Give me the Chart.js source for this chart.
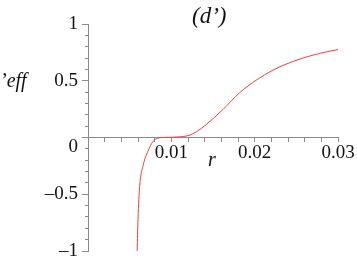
<!DOCTYPE html>
<html>
<head>
<meta charset="utf-8">
<script src="https://cdn.jsdelivr.net/npm/chart.js@4/dist/chart.umd.min.js"></script>
<style>
  html, body { margin: 0; padding: 0; background: #fff; }
  #wrap { position: relative; width: 357px; height: 259px; overflow: hidden; }
  canvas { position: absolute; left: 0; top: 0; }
  .lbl { position: absolute; font-family: "Liberation Serif", "Times New Roman", serif; font-style: italic; color: #111; white-space: nowrap; line-height: 1; }
</style>
</head>
<body>
<div id="wrap">
  <canvas id="c" width="357" height="259"></canvas>
  <div class="lbl" id="title" style="left:192px; top:4px; font-size:23px;">(d’)</div>
  <div class="lbl" id="ylab" style="left:0px; top:70px; font-size:20px;">’eff</div>
  <div class="lbl" id="xlab" style="left:208px; top:149px; font-size:20px;">r</div>
</div>
<script>
const rValues = [0.0059, 0.0060, 0.0062, 0.0066, 0.0072, 0.0078, 0.0084, 0.0090, 0.0100, 0.0110, 0.0120, 0.0130, 0.0142, 0.0162, 0.0182, 0.0202, 0.0222, 0.0242, 0.0262, 0.0282, 0.0300];
const vValues = [-1.0, -0.72, -0.43, -0.25, -0.12, -0.035, -0.005, 0.0, 0.002, 0.006, 0.016, 0.05, 0.115, 0.247, 0.395, 0.506, 0.594, 0.659, 0.709, 0.748, 0.775];
const xTickLabels = [0.01, 0.02, 0.03];
const yTickLabels = [-1, -0.5, 0, 0.5, 1];

const axisColor = '#8a8a8a';
const fontSpec = { family: '"Liberation Serif", "Times New Roman", serif', size: 19, lineHeight: 1.0 };

function fmtY(v) {
  const r = Math.round(v * 10) / 10;
  if (!yTickLabels.some(t => Math.abs(t - r) < 1e-9)) return '';
  if (r === 0) return ['', '0'];
  return r < 0 ? '–' + String(Math.abs(r)) : String(r);
}
function fmtX(v) {
  const r = Math.round(v * 1000) / 1000;
  const hit = xTickLabels.find(t => Math.abs(t - r) < 1e-9);
  return hit === undefined ? '' : String(hit);
}
function noPad(s) { s.paddingTop = 0; s.paddingBottom = 0; s.paddingLeft = 0; s.paddingRight = 0; }

function build() {
  new Chart(document.getElementById('c'), {
    type: 'line',
    data: {
      datasets: [{
        data: rValues.map((r, i) => ({ x: r, y: vValues[i] })),
        borderColor: '#ff3b3b',
        borderWidth: 1,
        pointRadius: 0,
        fill: false,
        cubicInterpolationMode: 'monotone',
        clip: false,
        yAxisID: 'y'
      }]
    },
    options: {
      responsive: false,
      animation: false,
      events: [],
      layout: { padding: { left: 0, right: 19, top: 24, bottom: 8 } },
      plugins: { legend: { display: false }, tooltip: { enabled: false }, title: { display: false } },
      scales: {
        x: {
          type: 'linear',
          min: 0, max: 0.03,
          position: { y: 0 },
          afterFit: noPad,
          grid: { drawOnChartArea: false, drawTicks: true, tickLength: 4, tickColor: axisColor, tickWidth: 1 },
          border: { display: true, color: axisColor, width: 1 },
          ticks: { stepSize: 0.002, autoSkip: false, maxRotation: 0, padding: 2, color: '#111', font: fontSpec, callback: v => fmtX(v) }
        },
        y: {
          type: 'linear',
          min: -1, max: 1,
          position: 'left',
          afterFit: s => { noPad(s); s.width = 88; },
          grid: { drawOnChartArea: false, drawTicks: true, tickLength: 6, tickColor: axisColor, tickWidth: 1 },
          border: { display: true, color: axisColor, width: 1 },
          ticks: { stepSize: 0.5, autoSkip: false, padding: 4, color: '#111', font: fontSpec, callback: v => fmtY(v) }
        },
        y2: {
          type: 'linear',
          min: -1, max: 1,
          position: { x: 0 },
          afterFit: noPad,
          grid: { drawOnChartArea: false, drawTicks: true, tickLength: 3, tickColor: axisColor, tickWidth: 1 },
          border: { display: false },
          ticks: { stepSize: 0.1, autoSkip: false, display: false }
        }
      }
    }
  });
}

Promise.all([
  document.fonts.load('19px "Liberation Serif"'),
  document.fonts.load('italic 20px "Liberation Serif"')
]).then(build, build);
</script>
</body>
</html>
